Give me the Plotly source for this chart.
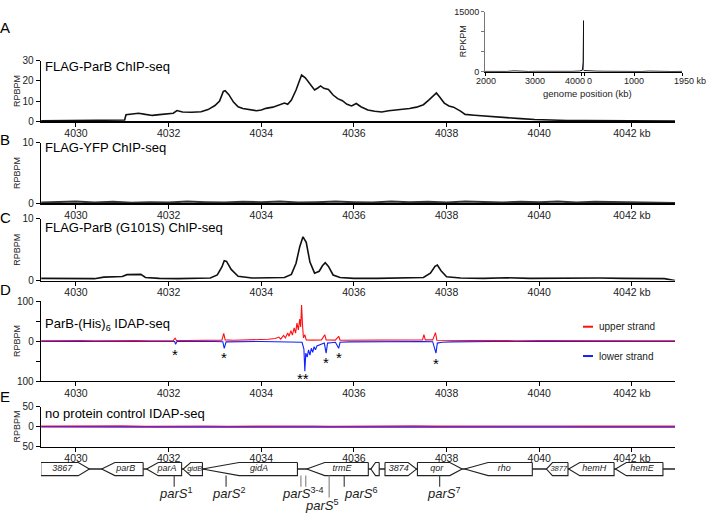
import plotly.graph_objects as go

# ======================= DATA =======================
# Panel A: FLAG-ParB ChIP-seq, (position kb, RPBPM)
chip_parb = [
    (4029.25, 0.2), (4029.6, 0.25), (4030.0, 0.15), (4030.5, 0.2), (4030.55, 0.5),
    (4030.9, 0.5), (4031.05, 0.6), (4031.08, 3.2), (4031.2, 3.5), (4031.35, 4.0),
    (4031.5, 3.4), (4031.65, 2.9), (4031.8, 3.3), (4032.0, 3.6), (4032.1, 4.0),
    (4032.18, 5.3), (4032.3, 4.6), (4032.5, 4.5), (4032.7, 4.7), (4032.85, 5.8),
    (4033.0, 7.8), (4033.1, 10.0), (4033.18, 14.8), (4033.22, 15.2), (4033.3, 13.2),
    (4033.4, 9.5), (4033.5, 7.2), (4033.6, 6.3), (4033.75, 5.8), (4033.9, 5.2),
    (4034.0, 5.6), (4034.1, 6.4), (4034.25, 7.0), (4034.4, 8.2), (4034.5, 9.0),
    (4034.57, 8.4), (4034.65, 10.5), (4034.75, 15.5), (4034.82, 20.0), (4034.87, 22.9),
    (4034.95, 21.5), (4035.05, 18.5), (4035.15, 15.5), (4035.22, 16.5), (4035.28, 17.5),
    (4035.35, 16.3), (4035.45, 15.8), (4035.55, 13.0), (4035.65, 11.2), (4035.75, 10.2),
    (4035.85, 8.4), (4035.95, 7.6), (4036.05, 8.8), (4036.15, 7.2), (4036.3, 5.6),
    (4036.45, 5.0), (4036.6, 4.6), (4036.75, 5.2), (4036.9, 5.5), (4037.05, 6.0),
    (4037.2, 6.3), (4037.35, 7.0), (4037.5, 8.2), (4037.62, 10.6), (4037.72, 13.0),
    (4037.78, 14.0), (4037.85, 12.0), (4037.95, 9.0), (4038.05, 7.6), (4038.15, 7.0),
    (4038.3, 5.0), (4038.4, 3.4), (4038.6, 3.0), (4038.8, 2.6), (4039.0, 2.2),
    (4039.3, 1.7), (4039.6, 1.3), (4039.9, 0.9), (4040.2, 0.6), (4040.6, 0.4),
    (4041.0, 0.3), (4041.5, 0.2), (4042.0, 0.15), (4042.5, 0.1), (4042.93, 0.1),
]

# Panel B: FLAG-YFP ChIP-seq
chip_yfp = [
    (4029.25, 0.15), (4029.6, 0.2), (4030.0, 0.3), (4030.4, 0.15), (4030.8, 0.25),
    (4031.2, 0.1), (4031.6, 0.2), (4032.0, 0.15), (4032.4, 0.3), (4032.8, 0.2),
    (4033.2, 0.15), (4033.6, 0.25), (4034.0, 0.2), (4034.4, 0.3), (4034.8, 0.15),
    (4035.2, 0.2), (4035.6, 0.3), (4036.0, 0.2), (4036.4, 0.15), (4036.8, 0.3),
    (4037.2, 0.2), (4037.6, 0.25), (4038.0, 0.15), (4038.4, 0.3), (4038.8, 0.2),
    (4039.2, 0.15), (4039.6, 0.25), (4040.0, 0.2), (4040.4, 0.3), (4040.8, 0.15),
    (4041.2, 0.25), (4041.6, 0.2), (4042.0, 0.25), (4042.4, 0.15), (4042.93, 0.05),
]

# Panel C: FLAG-ParB (G101S) ChIP-seq
chip_g101s = [
    (4029.25, 0.35), (4029.6, 0.3), (4030.0, 0.35), (4030.4, 0.3), (4030.6, 0.55),
    (4030.8, 0.6), (4031.0, 0.65), (4031.1, 0.95), (4031.3, 1.0), (4031.4, 1.0),
    (4031.5, 0.5), (4031.8, 0.35), (4032.2, 0.3), (4032.6, 0.35), (4032.9, 0.4),
    (4033.05, 0.9), (4033.15, 2.2), (4033.2, 3.2), (4033.25, 3.1), (4033.35, 1.8),
    (4033.5, 0.7), (4033.8, 0.4), (4034.2, 0.4), (4034.5, 0.5), (4034.65, 1.0),
    (4034.75, 2.8), (4034.83, 5.5), (4034.9, 7.1), (4034.97, 6.2), (4035.05, 3.0),
    (4035.15, 1.2), (4035.25, 1.5), (4035.32, 2.4), (4035.38, 2.9), (4035.45, 2.3),
    (4035.55, 0.9), (4035.7, 0.5), (4036.0, 0.35), (4036.5, 0.35), (4037.0, 0.4),
    (4037.5, 0.5), (4037.65, 1.2), (4037.75, 2.3), (4037.8, 2.5), (4037.88, 1.6),
    (4038.0, 0.6), (4038.3, 0.4), (4038.8, 0.35), (4039.3, 0.45), (4039.8, 0.35),
    (4040.3, 0.4), (4040.8, 0.35), (4041.3, 0.4), (4041.8, 0.35), (4042.3, 0.35),
    (4042.7, 0.3), (4042.93, 0.0),
]

# Panel D: ParB-(His)6 IDAP-seq, upper strand (+) and lower strand (-)
idap_upper = [
    (4029.25, 1.0), (4029.5, 1.5), (4029.8, 0.8), (4030.1, 1.4), (4030.4, 0.9),
    (4030.7, 1.6), (4031.0, 1.0), (4031.3, 1.5), (4031.6, 0.9), (4031.9, 1.8),
    (4032.1, 1.2), (4032.14, 7.0), (4032.17, 1.5), (4032.4, 1.3), (4032.7, 2.0),
    (4033.0, 1.5), (4033.15, 2.5), (4033.19, 19.0), (4033.22, 3.0), (4033.4, 2.0),
    (4033.6, 2.5), (4033.8, 2.2), (4034.0, 3.0), (4034.15, 4.5), (4034.3, 6.5),
    (4034.38, 10.0), (4034.42, 5.0), (4034.48, 14.0), (4034.52, 8.0), (4034.57, 20.0),
    (4034.6, 12.0), (4034.64, 26.0), (4034.67, 15.0), (4034.71, 33.0), (4034.74, 20.0),
    (4034.77, 45.0), (4034.8, 28.0), (4034.83, 55.0), (4034.85, 35.0), (4034.87, 90.0),
    (4034.89, 40.0), (4034.91, 8.0), (4034.94, 16.0), (4034.97, 3.0), (4035.1, 2.5),
    (4035.3, 3.0), (4035.37, 16.0), (4035.4, 3.0), (4035.6, 2.5), (4035.67, 12.0),
    (4035.7, 2.0), (4036.0, 2.0), (4036.5, 1.5), (4037.0, 1.8), (4037.3, 2.0),
    (4037.48, 3.0), (4037.51, 16.0), (4037.54, 3.0), (4037.7, 3.0), (4037.76, 21.0),
    (4037.79, 2.0), (4038.1, 1.5), (4038.5, 1.2), (4039.0, 1.5), (4039.5, 1.0),
    (4040.0, 1.4), (4040.5, 1.0), (4041.0, 1.3), (4041.5, 1.0), (4042.0, 1.2),
    (4042.5, 0.9), (4042.93, 1.0),
]
idap_lower = [
    (4029.25, -0.8), (4030.0, -1.0), (4031.0, -0.8), (4032.0, -1.0), (4032.13, -1.2),
    (4032.15, -8.0), (4032.18, -1.0), (4033.0, -1.0), (4033.17, -1.5), (4033.2, -18.0),
    (4033.24, -2.0), (4034.0, -1.0), (4034.8, -1.5), (4034.88, -3.0), (4034.92, -20.0),
    (4034.94, -75.0), (4034.96, -30.0), (4034.99, -40.0), (4035.02, -22.0), (4035.05, -35.0),
    (4035.08, -18.0), (4035.11, -28.0), (4035.14, -14.0), (4035.17, -22.0), (4035.2, -12.0),
    (4035.25, -10.0), (4035.3, -8.0), (4035.36, -5.0), (4035.4, -30.0), (4035.43, -5.0),
    (4035.5, -4.0), (4035.6, -3.0), (4035.67, -18.0), (4035.7, -3.0), (4035.9, -2.0),
    (4036.2, -1.5), (4036.8, -1.0), (4037.5, -1.0), (4037.7, -1.5), (4037.77, -30.0),
    (4037.8, -5.0), (4037.9, -3.0), (4038.1, -2.0), (4038.3, -1.5), (4039.0, -1.0),
    (4040.0, -1.0), (4041.0, -0.8), (4042.0, -1.0), (4042.93, -0.8),
]
idap_strand_names = ["upper strand", "lower strand"]

# Panel E: no protein control IDAP-seq
ctrl_kb = [4029.25, 4029.7, 4030.1, 4030.6, 4031.0, 4031.5, 4031.9, 4032.4, 4032.8, 4033.3,
           4033.7, 4034.2, 4034.6, 4035.1, 4035.5, 4036.0, 4036.4, 4036.9, 4037.3, 4037.8,
           4038.2, 4038.7, 4039.1, 4039.6, 4040.0, 4040.5, 4040.9, 4041.4, 4041.8, 4042.3,
           4042.93]
ctrl_upper = [0.8, 1.2, 0.6, 1.0, 1.4, 0.7, 1.1, 0.9, 1.3, 0.6,
              1.0, 1.2, 0.8, 1.1, 0.7, 1.3, 0.9, 1.0, 1.4, 0.8,
              1.1, 0.7, 1.2, 0.9, 1.0, 1.3, 0.8, 1.1, 0.9, 1.2, 0.8]
ctrl_lower = [-0.7, -1.1, -0.9, -1.3, -0.6, -1.0, -1.2, -0.8, -1.1, -1.4,
              -0.9, -0.7, -1.2, -1.0, -1.3, -0.8, -1.1, -0.6, -1.0, -1.2,
              -0.9, -1.3, -0.8, -1.0, -1.1, -0.7, -1.2, -0.9, -1.0, -0.8, -0.9]

# Inset: whole-genome RPKPM (circular genome shown as 2000..4043 | 0..1950 kb)
genome_left_kb = [2000, 2150, 2300, 2450, 2600, 2750, 2900, 3050, 3200, 3350,
                  3500, 3650, 3800, 3950, 4010, 4025, 4032, 4035, 4038, 4043]
genome_left_rpkpm = [90, 60, 120, 80, 220, 90, 70, 110, 80, 130,
                     90, 150, 100, 180, 400, 2500, 9000, 12800, 3000, 300]
genome_right_kb = [0, 100, 250, 400, 550, 700, 850, 1000, 1150, 1300, 1450, 1600, 1750, 1950]
genome_right_rpkpm = [300, 200, 150, 120, 90, 130, 80, 110, 70, 160, 90, 80, 60, 90]

# Gene annotation track (kb, full extent incl. arrow tip; strand; arrow-head length kb)
gene_names = ["3867", "parB", "parA", "gidB", "gidA", "trmE", "", "3874", "qor", "rho",
              "3877", "hemH", "hemE"]
gene_start = [4029.24, 4030.555, 4031.525, 4032.315, 4032.73, 4034.98, 4036.365, 4036.67,
              4037.37, 4038.39, 4040.155, 4040.635, 4041.645]
gene_end = [4030.29, 4031.45, 4032.28, 4032.73, 4034.78, 4036.31, 4036.545, 4037.35,
            4038.335, 4039.85, 4040.62, 4041.615, 4042.67]
gene_strand = [1, -1, -1, -1, -1, -1, -1, 1, 1, -1, -1, -1, -1]
gene_head = [0.24, 0.285, 0.25, 0.16, 0.79, 0.39, 0.1, 0.18, 0.265, 0.505, 0.13, 0.24, 0.235]

# parS sites
pars_labels = ["1", "2", "3-4", "5", "6", "7"]
pars_positions = [[4032.12], [4033.24], [4034.855, 4034.96], [4035.465], [4035.79], [4037.85]]

# asterisks in panel D
star_kb = [4032.13, 4033.2, 4034.9, 4035.4, 4035.67, 4037.78]
star_text = ["*", "*", "**", "*", "*", "*"]
star_rpbpm = [-23, -32, -83, -44, -30, -45]

# axis ticks
x_tickvals = [4030, 4032, 4034, 4036, 4038, 4040, 4042]
x_ticktext = ["4030", "4032", "4034", "4036", "4038", "4040", "4042 kb"]
x_range = [4029.245, 4042.93]

panel_letters = ["A", "B", "C", "D", "E"]
panel_titles = ["FLAG-ParB ChIP-seq", "FLAG-YFP ChIP-seq", "FLAG-ParB (G101S) ChIP-seq",
                "ParB-(His)<sub>6</sub> IDAP-seq", "no protein control IDAP-seq"]

# ======================= STYLE / LAYOUT =======================
W, H = 708, 520
FONT = "Liberation Sans, Arial, Helvetica, sans-serif"
RED, BLUE, INK = "#ff1010", "#1020ff", "#111111"


def fx(p):
    return p / W


def fy(p):
    return 1 - p / H


def unzip(pairs):
    return [p[0] for p in pairs], [p[1] for p in pairs]


x_dom = [fx(41), fx(675)]
# (top px, bottom px, y-range, labelled ticks, tick text, minor ticks, letter y px, title y px)
panel_geo = [
    (56, 118, [0, 30], [0, 10, 20, 30], ["0", "10", "20", "30"], [], 22, 62),
    (140, 202, [0, 10], [0, 10], ["0", "10"], [], 137, 145),
    (218, 281, [0, 10], [0, 10], ["0", "10"], [], 217, 227),
    (302, 384, [-100, 100], [-100, 0, 100], ["100", "0", "100"], [-50, 50], 290, 326),
    (410, 451, [-50, 50], [-50, 0, 50], ["50", "0", "50"], [], 400, 417),
]

fig = go.Figure()


def sfx(i):
    return "" if i == 1 else str(i)


# --- data traces
ax, ay = unzip(chip_parb)
fig.add_trace(go.Scatter(x=ax, y=ay, mode="lines", line=dict(color=INK, width=1.6),
                         xaxis="x", yaxis="y", showlegend=False))
bx, by = unzip(chip_yfp)
fig.add_trace(go.Scatter(x=bx, y=by, mode="lines", line=dict(color="#333333", width=2),
                         xaxis="x2", yaxis="y2", showlegend=False))
cx, cy = unzip(chip_g101s)
fig.add_trace(go.Scatter(x=cx, y=cy, mode="lines", line=dict(color=INK, width=1.6),
                         xaxis="x3", yaxis="y3", showlegend=False))
lx, ly = unzip(idap_lower)
ux, uy = unzip(idap_upper)
fig.add_trace(go.Scatter(x=lx, y=ly, mode="lines", line=dict(color=BLUE, width=1.1),
                         name=idap_strand_names[1], xaxis="x4", yaxis="y4", showlegend=False))
fig.add_trace(go.Scatter(x=ux, y=uy, mode="lines", line=dict(color=RED, width=1.1),
                         name=idap_strand_names[0], xaxis="x4", yaxis="y4", showlegend=False))
fig.add_trace(go.Scatter(x=ctrl_kb, y=ctrl_lower, mode="lines", line=dict(color=BLUE, width=1.5),
                         xaxis="x5", yaxis="y5", showlegend=False))
fig.add_trace(go.Scatter(x=ctrl_kb, y=ctrl_upper, mode="lines",
                         line=dict(color="rgba(225,0,60,0.85)", width=1.3),
                         xaxis="x5", yaxis="y5", showlegend=False))

# inset
fig.add_trace(go.Scatter(x=genome_left_kb, y=genome_left_rpkpm, mode="lines",
                         line=dict(color=INK, width=1), xaxis="x7", yaxis="y7", showlegend=False))
fig.add_trace(go.Scatter(x=genome_right_kb, y=genome_right_rpkpm, mode="lines",
                         line=dict(color=INK, width=1), xaxis="x8", yaxis="y8", showlegend=False))

# --- gene track (y6 units = pixels below y=462)
G_Y0, G_Y1 = -18.7, -5.3
G_YC = (G_Y0 + G_Y1) / 2
fig.add_trace(go.Scatter(x=x_range, y=[G_YC, G_YC], mode="lines",
                         line=dict(color="#222222", width=1.6),
                         xaxis="x6", yaxis="y6", showlegend=False, hoverinfo="skip"))
lab_x, lab_t, lab_s = [], [], []
for name, s, e, st, hd in zip(gene_names, gene_start, gene_end, gene_strand, gene_head):
    if st > 0:
        b = e - hd
        xs = [s, b, e, b, s, s]
    else:
        b = s + hd
        xs = [e, b, s, b, e, e]
    ys = [G_Y1, G_Y1, G_YC, G_Y0, G_Y0, G_Y1]
    fig.add_trace(go.Scatter(x=xs, y=ys, mode="lines", fill="toself", fillcolor="white",
                             line=dict(color="#222222", width=1.1),
                             xaxis="x6", yaxis="y6", showlegend=False, hoverinfo="skip"))
    if name:
        if st > 0:
            lab_x.append((s + e - hd / 2) / 2)
        else:
            lab_x.append((s + hd / 2 + e) / 2)
        lab_t.append("<i>" + name + "</i>")
        # shrink the label a little when the gene box is very short
        lab_s.append(7.5 if (e - s) < 0.5 else 9)
fig.add_trace(go.Scatter(x=lab_x, y=[G_YC] * len(lab_x), mode="text", text=lab_t,
                         textfont=dict(family=FONT, size=lab_s, color="#222222"),
                         xaxis="x6", yaxis="y6", showlegend=False, hoverinfo="skip"))

# parS ticks
pars_len = {"5": -41}
pars_shift = {"1": 2, "2": 3, "3-4": 0, "5": -7, "6": 17, "7": 4}
for lab, poss in zip(pars_labels, pars_positions):
    col = "#8a8a8a" if lab in ("3-4", "5") else "#444444"
    y_end = pars_len.get(lab, -30)
    for p in poss:
        fig.add_trace(go.Scatter(x=[p, p], y=[G_Y0, y_end], mode="lines",
                                 line=dict(color=col, width=1.2),
                                 xaxis="x6", yaxis="y6", showlegend=False, hoverinfo="skip"))

annotations = []
for lab, poss in zip(pars_labels, pars_positions):
    cxm = sum(poss) / len(poss)
    ypx = 511 if lab == "5" else 498.5
    annotations.append(dict(x=cxm, xref="x6", y=fy(ypx), yref="paper",
                            text="<i>parS</i><sup>" + lab + "</sup>", showarrow=False,
                            xshift=pars_shift[lab], font=dict(family=FONT, size=13, color="#222222"),
                            xanchor="center", yanchor="middle"))

# --- axes
layout_axes = {}
for i, (top, bot, yr, tv, tt, mv, ly_px, ty_px) in enumerate(panel_geo, start=1):
    layout_axes["xaxis" + sfx(i)] = dict(
        domain=x_dom, range=x_range, anchor="y" + sfx(i), tickvals=x_tickvals, ticktext=x_ticktext,
        ticks="outside", ticklen=4, tickwidth=1, tickcolor="black", showline=True,
        linecolor="black", linewidth=1.3, showgrid=False, zeroline=False, ticklabelstandoff=-2,
        tickfont=dict(family=FONT, size=10.5, color="#222222"), fixedrange=True)
    yax = dict(
        domain=[fy(bot), fy(top)], range=yr, anchor="x" + sfx(i), tickvals=tv, ticktext=tt,
        ticks="outside", ticklen=4, tickwidth=1, tickcolor="black", showline=True,
        linecolor="black", linewidth=1.3, showgrid=False, zeroline=False,
        tickfont=dict(family=FONT, size=10, color="#222222"), fixedrange=True)
    if mv:
        yax["minor"] = dict(tickvals=mv, ticks="outside", ticklen=4, tickwidth=1,
                            tickcolor="black", showgrid=False)
    layout_axes["yaxis" + sfx(i)] = yax
    annotations.append(dict(x=fx(5), y=fy(ly_px), xref="paper", yref="paper", text=panel_letters[i - 1],
                            showarrow=False, xanchor="center", yanchor="middle",
                            font=dict(family=FONT, size=15, color="black")))
    annotations.append(dict(x=fx(43), y=fy(ty_px), xref="paper", yref="paper", text=panel_titles[i - 1],
                            showarrow=False, xanchor="left", yanchor="middle",
                            font=dict(family=FONT, size=13, color="black")))
    annotations.append(dict(x=fx(17), y=fy((top + bot) / 2), xref="paper", yref="paper", text="RPBPM",
                            textangle=-90, showarrow=False, xanchor="center", yanchor="middle",
                            font=dict(family=FONT, size=9, color="#222222")))

layout_axes["xaxis6"] = dict(domain=x_dom, range=x_range, anchor="y6", visible=False, fixedrange=True)
layout_axes["yaxis6"] = dict(domain=[0, fy(462)], range=[-58, 0], anchor="x6", visible=False, fixedrange=True)

inset_y = [fy(67.3), fy(6)]
layout_axes["xaxis7"] = dict(domain=[fx(485), fx(584)], range=[2000, 4043], anchor="y7",
                             tickvals=[2000, 3000, 4000], showticklabels=False, ticks="outside",
                             ticklen=3, tickcolor="black", showline=True, linecolor="black",
                             linewidth=1.2, showgrid=False, zeroline=False, fixedrange=True)
layout_axes["xaxis8"] = dict(domain=[fx(584), fx(682)], range=[0, 1950], anchor="y8",
                             tickvals=[0, 1000, 1950], showticklabels=False, ticks="outside",
                             ticklen=3, tickcolor="black", showline=True, linecolor="black",
                             linewidth=1.2, showgrid=False, zeroline=False, fixedrange=True)
layout_axes["yaxis7"] = dict(domain=inset_y, range=[0, 15000], anchor="x7",
                             tickvals=[0, 15000], ticktext=["0", "15000"],
                             minor=dict(tickvals=[5000, 10000], ticks="outside", ticklen=3,
                                        tickcolor="#777777", showgrid=False),
                             ticks="outside", ticklen=3, tickcolor="#777777", showline=True,
                             linecolor="#777777", linewidth=1, showgrid=False, zeroline=False,
                             tickfont=dict(family=FONT, size=9, color="#222222"), fixedrange=True)
layout_axes["yaxis8"] = dict(domain=inset_y, range=[0, 15000], anchor="x8", visible=False,
                             fixedrange=True)

# inset x tick labels and titles
inset_labels = [("x7", 2000, "2000", 1, "center"), ("x7", 3000, "3000", 2, "center"),
                ("x7", 4000, "4000", -7, "center"), ("x8", 0, "0", 5, "center"),
                ("x8", 1000, "1000", 0, "center"), ("x8", 1950, "1950 kb", -10, "left")]
for xr, xv, txt, sh, anc in inset_labels:
    annotations.append(dict(x=xv, xref=xr, y=fy(76.5), yref="paper", text=txt, showarrow=False,
                            xshift=sh, xanchor=anc, yanchor="middle",
                            font=dict(family=FONT, size=9, color="#222222")))
annotations.append(dict(x=fx(587), y=fy(89.5), xref="paper", yref="paper", text="genome position (kb)",
                        showarrow=False, xanchor="center", yanchor="middle",
                        font=dict(family=FONT, size=9.5, color="#222222")))
annotations.append(dict(x=fx(463), y=fy(36), xref="paper", yref="paper", text="RPKPM", textangle=-90,
                        showarrow=False, xanchor="center", yanchor="middle",
                        font=dict(family=FONT, size=9, color="#222222")))

# asterisks
for kx, t, yv in zip(star_kb, star_text, star_rpbpm):
    annotations.append(dict(x=kx, xref="x4", y=yv, yref="y4", text=t, showarrow=False, yshift=-4,
                            xanchor="center", yanchor="middle",
                            font=dict(family=FONT, size=15, color="black")))

# strand legend
shapes = []
for name, col, ypx in [(idap_strand_names[0], RED, 328.3), (idap_strand_names[1], BLUE, 358.3)]:
    shapes.append(dict(type="line", xref="paper", yref="paper", x0=fx(583), x1=fx(593),
                       y0=fy(ypx), y1=fy(ypx), line=dict(color=col, width=2)))
    annotations.append(dict(x=fx(597), y=fy(ypx), xref="paper", yref="paper", text=name,
                            showarrow=False, xanchor="left", yanchor="middle",
                            font=dict(family=FONT, size=10, color="#222222")))

fig.update_layout(
    width=W, height=H, margin=dict(l=0, r=0, t=0, b=0),
    paper_bgcolor="white", plot_bgcolor="white", showlegend=False,
    font=dict(family=FONT, color="#222222"),
    annotations=annotations, shapes=shapes, **layout_axes)

# remove the default 8px page margin so the 708x520 figure fills the window exactly
fig.write_html("out.html", config={"displayModeBar": False, "staticPlot": True},
               post_script="document.body.style.margin='0';document.body.style.overflow='hidden';")
